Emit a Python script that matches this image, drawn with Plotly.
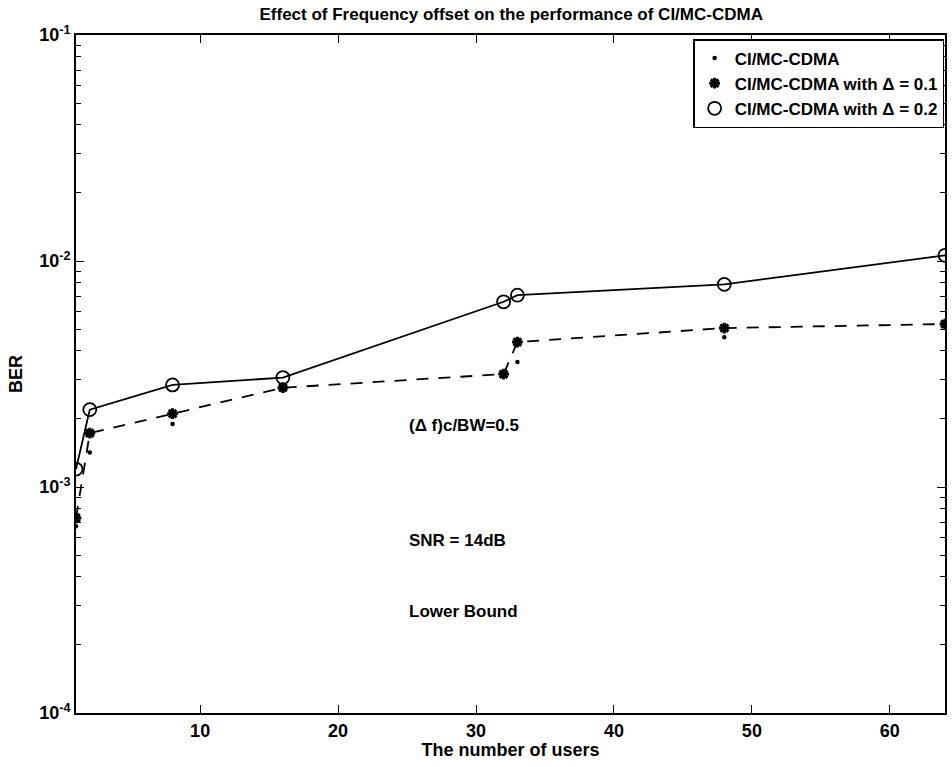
import math
import plotly.graph_objects as go

# Number of users
users = [1, 2, 8, 16, 32, 33, 48, 64]

# BER curves
ber_ideal = [6.7e-4, 1.42e-3, 1.90e-3, 2.80e-3, 3.10e-3, 3.57e-3, 4.60e-3, 5.20e-3]
ber_d01 = [7.3e-4, 1.73e-3, 2.11e-3, 2.75e-3, 3.16e-3, 4.38e-3, 5.05e-3, 5.26e-3]
ber_d02 = [1.20e-3, 2.20e-3, 2.83e-3, 3.05e-3, 6.60e-3, 7.06e-3, 7.88e-3, 1.06e-2]

legend_names = ["CI/MC-CDMA", "CI/MC-CDMA with Δ = 0.1", "CI/MC-CDMA with Δ = 0.2"]

y_tickvals = [1e-4, 1e-3, 1e-2, 1e-1]
y_ticktext = ["10<sup>-4</sup>", "10<sup>-3</sup>", "10<sup>-2</sup>", "10<sup>-1</sup>"]
x_tickvals = [10, 20, 30, 40, 50, 60]

notes = ["(Δ f)c/BW=0.5", "SNR = 14dB", "Lower Bound"]
note_x = [25, 25, 25]
note_y = [1.88e-3, 5.8e-4, 2.8e-4]

FONT = "Liberation Sans, Arial, Helvetica, sans-serif"
TXT = dict(color="black", family=FONT, weight="bold")

fig = go.Figure()

# connecting lines (kept out of the legend)
fig.add_trace(go.Scatter(x=users, y=ber_d02, mode="lines",
                         line=dict(color="black", width=1.8), showlegend=False,
                         hoverinfo="skip"))
fig.add_trace(go.Scatter(x=users, y=ber_d01, mode="lines",
                         line=dict(color="black", width=1.8, dash="12px,10px"),
                         showlegend=False, hoverinfo="skip"))

# markers
fig.add_trace(go.Scatter(x=users, y=ber_ideal, mode="markers", name=legend_names[0],
                         marker=dict(symbol="circle", size=4.5, color="black")))
fig.add_trace(go.Scatter(x=users, y=ber_d01, mode="markers", name=legend_names[1],
                         marker=dict(symbol="asterisk-open", size=9, color="black",
                                     line=dict(color="black", width=3))))
fig.add_trace(go.Scatter(x=users, y=ber_d02, mode="markers", name=legend_names[2],
                         marker=dict(symbol="circle-open", size=13, color="black",
                                     line=dict(color="black", width=1.8))))

# text labels (log axis: annotation y given in decades)
for t, x, y in zip(notes, note_x, note_y):
    fig.add_annotation(x=x, y=math.log10(y), text=t, showarrow=False, xanchor="left",
                       yanchor="middle", font=dict(size=17, **TXT))

axis_common = dict(showgrid=False, zeroline=False, showline=True, linecolor="black",
                   linewidth=1.8, mirror="allticks", ticks="inside", tickcolor="black",
                   tickwidth=1.4, ticklen=8,
                   tickfont=dict(size=18, **TXT))

fig.update_xaxes(range=[1, 64], tickvals=x_tickvals,
                 title=dict(text="The number of users", standoff=4,
                            font=dict(size=18, **TXT)),
                 **axis_common)
fig.update_yaxes(type="log", range=[-4, -1], tickvals=y_tickvals, ticktext=y_ticktext,
                 title=dict(text="BER", standoff=12,
                            font=dict(size=18, **TXT)),
                 minor=dict(ticks="inside", ticklen=5, tickcolor="black", tickwidth=1.2,
                            dtick="D1"),
                 **axis_common)

fig.update_layout(
    width=952, height=767,
    margin=dict(l=76, r=5, t=35, b=54),
    paper_bgcolor="white", plot_bgcolor="white",
    font=dict(family=FONT, color="black"),
    title=dict(text="Effect of Frequency offset on the performance of CI/MC-CDMA",
               x=0.537, xanchor="center", y=0.99, yanchor="top",
               font=dict(size=17, **TXT)),
    legend=dict(x=0.999, y=0.994, xanchor="right", yanchor="top",
                bgcolor="white", bordercolor="black", borderwidth=1.5,
                font=dict(size=17, **TXT),
                tracegroupgap=0, itemsizing="trace"),
    showlegend=True,
)

fig.write_html("out.html")
